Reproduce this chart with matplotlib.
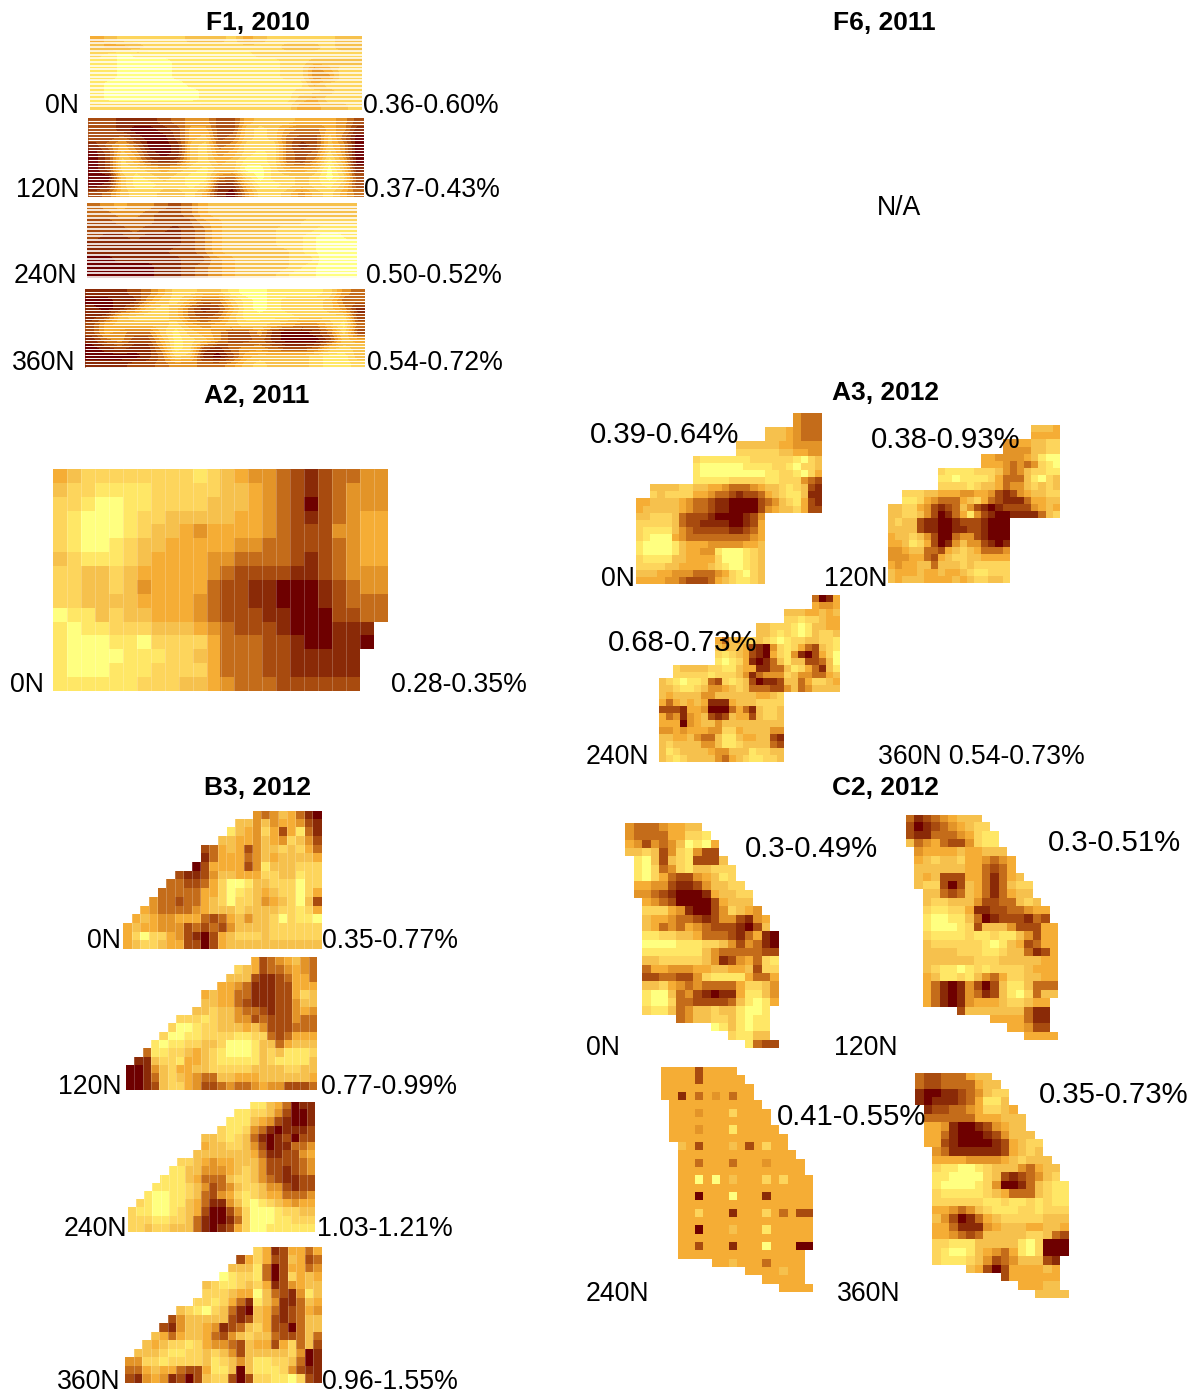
#!/usr/bin/env python
# encoding: UTF8

import numpy as np
import matplotlib
matplotlib.use('Agg')
import matplotlib.pyplot as plt
from matplotlib.colors import ListedColormap

plt.rcParams['font.family'] = ['Liberation Sans', 'DejaVu Sans']

W, H = 1198, 1393

# colour classes, 0 = low (pale yellow) to 9 = high (dark red)
palette = ['#FFFF80', '#FFE766', '#FDD55C', '#F6C14D', '#F5AD35',
           '#E39428', '#C46C1A', '#A84B0F', '#8A2A07', '#6E0000']

# each grid is one string per row, '.' = no data
f1_0n = ["43222223332432222233", "34432222222222333233", "21011111111122222222",
         "11000011111111223333", "11000011111111225422", "11000011111111225522",
         "10000001111111114222", "10000000111111122322", "10000000111111134222",
         "22222222222222244332"]
f1_120n = ["77888765577433344457", "77899874477323566458", "77689974376323677369",
           "86469983265222687359", "97358983254212676259", "97247873243112675149",
           "97223432133002443038", "99312321156202232027", "98311221288411232137",
           "76322332489522353246"]
f1_240n = ["65455676433333333333", "66556776433333333333", "77666777543333332222",
           "77767787643333222111", "78878887643333221001", "88888887643333221000",
           "88888877643333321000", "99888887754333322000", "99999887654333321000",
           "99999887654333211000"]
f1_360n = ["88876422331001111256", "99885324663101222366", "89863236874101222358",
           "87322236763111122227", "74333324543223455316", "74566313457758998627",
           "86577412357768999734", "98788512786556776323", "99998623897433332113",
           "88877655665323332112"]

a2_0n = ["432222222212345567876655", "322111122222334567876555", "221001122223334567976555",
         "210001223333344567876544", "210001233454444567775544", "210012334444455667776544",
         "321112344445566667876544", "223323444445677778876555", "223323544446778899987655",
         "223333444456778899987666", "011323344456777889997766", "10112223334567778999888.",
         "10001102222466677899889.", "1000011122346667788888..", "1000111222246667788888..",
         "1111112223345666777777.."]

a3_0n = ["......................5666", "......................5666", "..................33345666",
         "..................33345666", "..............333333445555", "..............222222334455",
         "........211111112222221023", "........100000011112210223", "........100000000011221024",
         "........111112222211222567", "..333322334456665433212378", "..232222445667877643211388",
         "44333345667889999765321478", "43333345667889999754332477", "332223677789999875........",
         "222223677888899874........", "211113567777788764........", "210004566666666654........",
         "100001344455555443........", "100001344551000123........", "211113344442000123........",
         "222233444432100123........", "333445556665421023........", "444455677764321123........"]
a3_120n = ["....................3334", "....................4444", "................55443322",
           "................55553322", ".............44555543100", ".............44456565210",
           ".......21111222356532211", ".......11011112466631023", ".......22221233465532323",
           "..2223344455445787543322", "..1124566643246788864433", "332245787635789877775434",
           "332235798641578998888632", "32337889987778999........", "33337889988778999........",
           "43323579965578999........", "44312479853557898........", "55433667432346665........",
           "55544674322334444........", "45443363332322222........", "34443443443211222........",
           "34333444434322332........"]
a3_240n = ["......................6984", "......................4554", "..................33344343",
           "..................22122344", "..............332221013344", "..............332121013223",
           "........463432321012233221", "........343347895212467321", "........212347894215897420",
           "........101248986313377630", "..233332211344886631246831", "..222221222358655523556643",
           "32101126721237988733642234", "33211235543236667753653333", "343333553333334432........",
           "464343488843332222........", "777844599964683223........", "465854378734473223........",
           "444954335333333333........", "554544455224333355........", "334435663113443378........",
           "323333553112333367........", "312333345533312233........", "321233335643211223........"]

b3_0n = ["...............56534689", ".............3353544578", "............13452474168",
         "...........334453452357", ".........76434753323246", ".........86444653433334",
         "........974444751333222", "......78875334442233122", ".....667764200133222022",
         "....6666644201234322024", "...56676643202235432037", "..456666543332333322124",
         ".4345544467643533202110", "43445557676753333222222", "42022457897432223222222",
         "43223447797433333333333"]
b3_120n = ["...............47654356", ".............2347665456", "............33378876446",
           "...........445688877444", ".........43446688877423", ".........33446788877533",
           "........332335667877545", "......22212335576777566", ".....200122333435777666",
           "....2001122221122676444", "...10112233200013364333", "..611223432100013231112",
           ".8832214432111113211113", "99853244332222233332233", "99863234566334443333334",
           "99873224577656654557776"]
b3_240n = ["...............11346988", ".............1122357998", "............11134578998",
           "...........211256898887", ".........33212368987977", ".........43322357988665",
           "........333333346887754", "......22345443335777765", ".....113355543235778765",
           "....1113466632235678877", "...11112357653223557877", "..100112367542123446665",
           ".2100113468853101234544", "21100123479975200012233", "22211223689986200011222",
           "22322333689874200111111"]
b3_360n = ["...............24874464", ".............7424773476", "............33316974465",
           "...........012216972434", ".........32112324875433", ".........22234403678513",
           "........221246813588634", "......32102368934687645", ".....753333378734787633",
           "....7853345876324779633", "...34643346753233677636", "..343221245567344742637",
           ".3332112232357333332598", "55221222231235311223698", "66434467741139311125788",
           "78545879732279722110278"]

c2_0n = ["566654433", "5666644221", "45756530104", "33237521577", ".10373217773",
         ".102652133222", ".102467754312", ".4455788753322", ".55678999843322",
         "..4567999974333", "..22245899752345", "..344566787557854", "..346564567778973",
         "..1122334666786489", "..0000111223575689", "..1111111356666677", "..3322222358754621",
         "..6445554433443722", "..7766775211114664", "..3324565666642235", "..1003657898841135",
         "..1002667777631014", "..211365332331001", "......65332231011", "..........0131011",
         "............21133", "..............1677"]
c2_120n = ["687654333", "7987654322", "78866654211", "36546775211", ".54444344333",
           ".432332445654", ".333333446764", ".3437774468643", ".32279734686322",
           "..3367634686433", "..32233357766323", "..211224887766544", "..100113698777867",
           "..1000127333577744", "..2111121121135744", "..3222222101347644", "..3333222112336874",
           "..3333332223333344", "..3211012122223444", "..4311213564223344", "..4689857973113666",
           "..4689856873102633", "..468985444322344", "......73333333688", "..........4444688",
           "............44577", "..............4444"]
c2_240n = ["444474444", "4444744444", "44444444444", "44846454644", ".44444444444",
           ".444544424444", ".444444444444", ".4445444144444", ".44444444444444",
           "..3474443474244", "..44444444444444", "..446444644454444", "..444444444444444",
           "..4404043444242444", "..4444444444444444", "..4494440444844444", "..4444444444444444",
           "..4424448444246477", "..4444444444444444", "..4494443444144444", "..4444444444444444",
           "..4474448444044499", "..444444444444444", "......44344464444", "..........4444344",
           "............44444", "..............4444"]
c2_360n = ["677666433", "6776666433", "89988765322", "89888764113", ".87766542234",
           ".666666444333", ".445899875433", ".4468999875333", ".44789999874322",
           "..5688888874323", "..44445555432333", "..211001233356433", "..110000237876532",
           "..1000012599863211", "..2111112346663211", "..2222221121121211", "..4456532111221222",
           "..3579864322222333", "..4468885433344334", "..4456763333322367", "..2211133333102999",
           "..2100134564102999", "..211123576533378", "......34797444434", "..........7444444",
           "............44433", "..............3333"]

titles = ['F1, 2010', 'F6, 2011', 'A2, 2011', 'A3, 2012', 'B3, 2012', 'C2, 2012']
title_x = [258, 884, 257, 885, 258, 885]
title_y = [30, 30, 403, 400, 795, 795]

labels = ['0N', '0.36-0.60%', '120N', '0.37-0.43%', '240N', '0.50-0.52%', '360N', '0.54-0.72%',
          'N/A', '0N', '0.28-0.35%', '0N', '120N', '240N', '360N 0.54-0.73%', '0N', '0.35-0.77%',
          '120N', '0.77-0.99%', '240N', '1.03-1.21%', '360N', '0.96-1.55%', '0N', '120N', '240N', '360N']
label_x = [45, 363, 16, 364, 14, 366, 12, 367, 877, 10, 391, 601, 824, 586, 878,
           87, 322, 58, 321, 64, 317, 57, 322, 586, 834, 586, 837]
label_y = [113, 113, 197, 197, 283, 283, 370, 370, 215, 692, 692, 586, 586, 764, 764,
           948, 948, 1094, 1094, 1236, 1236, 1389, 1389, 1055, 1055, 1301, 1301]

# these ranges sit inside the panels and are set larger in the figure
big_labels = ['0.39-0.64%', '0.38-0.93%', '0.68-0.73%', '0.3-0.49%', '0.3-0.51%', '0.41-0.55%', '0.35-0.73%']
big_x = [590, 871, 608, 745, 1048, 777, 1039]
big_y = [443, 448, 651, 857, 851, 1125, 1103]

cmap = ListedColormap(palette)


def to_array(rows, ncol):
    # short rows are padded with no data
    out = []
    for r in rows:
        r = r[:ncol].ljust(ncol, '.')
        out.append([np.nan if c == '.' else float(c) for c in r])
    return np.array(out)


def panel(rows, box, ncol, stripe=None, stripe_lw=0.9, seams=False):
    x0, x1, y0, y1 = box
    ax = fig.add_axes([x0 / W, 1 - y1 / H, (x1 - x0) / W, (y1 - y0) / H])
    z = to_array(rows, ncol)
    interp = 'bilinear' if stripe else 'nearest'
    ax.imshow(z, cmap=cmap, vmin=-0.5, vmax=9.5, aspect='auto', interpolation=interp,
              extent=[0, z.shape[1], y1 - y0, 0])
    if stripe:
        ax.hlines(np.arange(stripe, y1 - y0, stripe), 0, z.shape[1], color='white', lw=stripe_lw)
    if seams:
        ax.vlines(np.arange(1, z.shape[1]), 0, y1 - y0, color='white', lw=0.6, alpha=0.25)
    ax.set_xlim(0, z.shape[1])
    ax.set_ylim(y1 - y0, 0)
    ax.axis('off')


fig = plt.figure(figsize=(W / 100, H / 100), dpi=100)

panel(f1_0n, (90, 362, 36, 110), 20, stripe=3.7, stripe_lw=1.1)
panel(f1_120n, (88, 364, 118, 197), 20, stripe=3.2, stripe_lw=0.8)
panel(f1_240n, (87, 357, 203, 278), 20, stripe=3.7, stripe_lw=1.2)
panel(f1_360n, (85, 365, 289, 368), 20, stripe=3.0, stripe_lw=0.7)

panel(a2_0n, (53, 388, 469, 691), 24, seams=True)

panel(a3_0n, (636, 822, 413, 584), 26)
panel(a3_120n, (888, 1060, 425, 583), 24)
panel(a3_240n, (659, 839, 595, 762), 26)

panel(b3_0n, (123, 321, 811, 949), 23, seams=True)
panel(b3_120n, (126, 317, 957, 1090), 23, seams=True)
panel(b3_240n, (128, 315, 1102, 1232), 23, seams=True)
panel(b3_360n, (125, 322, 1247, 1383), 23, seams=True)

panel(c2_0n, (625, 778, 823, 1048), 18)
panel(c2_120n, (906, 1058, 815, 1040), 18)
panel(c2_240n, (661, 813, 1067, 1292), 18)
panel(c2_360n, (915, 1068, 1073, 1298), 18)

for t, x, y in zip(titles, title_x, title_y):
    fig.text(x / W, 1 - y / H, t, ha='center', va='baseline', fontsize=19, fontweight='bold', color='black')
for t, x, y in zip(labels, label_x, label_y):
    fig.text(x / W, 1 - y / H, t, ha='left', va='baseline', fontsize=19.2, color='black')
for t, x, y in zip(big_labels, big_x, big_y):
    fig.text(x / W, 1 - y / H, t, ha='left', va='baseline', fontsize=21.2, color='black')

fig.savefig('out.png', dpi=100)
